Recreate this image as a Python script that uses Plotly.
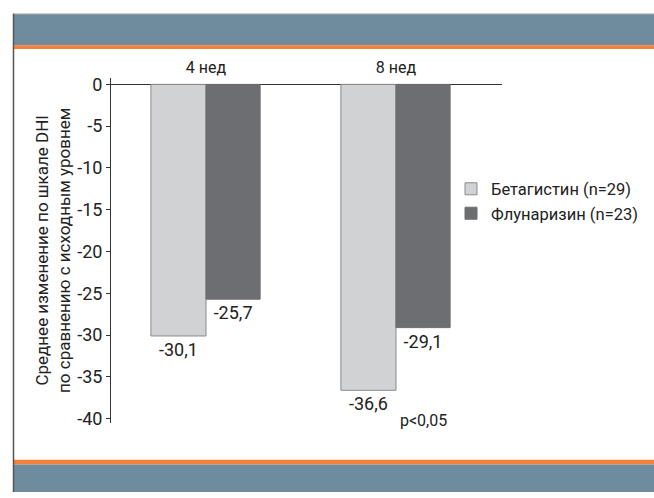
import plotly.graph_objects as go

categories = ["4 нед", "8 нед"]
series_names = ["Бетагистин (n=29)", "Флунаризин (n=23)"]
betahistine = [-30.1, -36.6]
flunarizine = [-25.7, -29.1]
y_ticks = [0, -5, -10, -15, -20, -25, -30, -35, -40]
p_label = "p<0,05"

FONT = "Roboto, sans-serif"
W, H = 654, 498
SLATE = "#6F8C9F"
ORANGE = "#F5803A"

def fmt(v):
    return f"{v:.1f}".replace(".", ",")

fig = go.Figure()
fig.add_trace(go.Bar(
    x=categories, y=betahistine, name=series_names[0],
    width=0.29, offset=-0.29,
    marker=dict(color="#D1D2D4", line=dict(color="#8A8B8D", width=1)),
    text=[fmt(v) for v in betahistine], textposition="outside",
    textfont=dict(family=FONT, size=18, color="#222"),
    cliponaxis=False,
))
fig.add_trace(go.Bar(
    x=categories, y=flunarizine, name=series_names[1],
    width=0.285, offset=0.0,
    marker=dict(color="#6D6E71", line=dict(color="#6D6E71", width=1)),
    text=[fmt(v) for v in flunarizine], textposition="outside",
    textfont=dict(family=FONT, size=18, color="#222"),
    cliponaxis=False,
))

shapes = [
    dict(type="rect", xref="paper", yref="paper", x0=13/W, x1=1, y0=1-42/H, y1=1-10/H,
         fillcolor=SLATE, line=dict(width=0), layer="below"),
    dict(type="line", xref="paper", yref="paper", x0=13/W, x1=1, y0=1-10.5/H, y1=1-10.5/H,
         line=dict(color="#9A9A9A", width=1)),
    dict(type="rect", xref="paper", yref="paper", x0=13/W, x1=1, y0=1-46/H, y1=1-42/H,
         fillcolor=ORANGE, line=dict(width=0), layer="below"),
    dict(type="rect", xref="paper", yref="paper", x0=13/W, x1=1, y0=1-470/H, y1=1-465/H,
         fillcolor=ORANGE, line=dict(width=0), layer="below"),
    dict(type="rect", xref="paper", yref="paper", x0=13/W, x1=1, y0=0, y1=1-470/H,
         fillcolor=SLATE, line=dict(width=0), layer="below"),
    dict(type="line", xref="paper", yref="paper", x0=13.5/W, x1=13.5/W, y0=0, y1=1-10/H,
         line=dict(color="#555", width=1.5)),
]

fig.update_layout(
    width=W, height=H,
    margin=dict(l=0, r=0, t=0, b=0),
    paper_bgcolor="white", plot_bgcolor="white",
    barmode="group",
    showlegend=True,
    legend=dict(x=451/W, y=1-171/H, xanchor="left", yanchor="top",
                font=dict(family=FONT, size=16.5, color="#222"),
                bgcolor="rgba(0,0,0,0)", itemwidth=30, tracegroupgap=2),
    shapes=shapes,
    font=dict(family=FONT, color="#222"),
    xaxis=dict(domain=[111/W, 502/W], range=[-0.5, 1.558], type="category",
               side="top", showline=False, ticks="", showgrid=False,
               tickfont=dict(family=FONT, size=16, color="#222")),
    yaxis=dict(domain=[1-427.5/H, 1-75.2/H], range=[-40.5, 0.8],
               tickvals=y_ticks, ticktext=[str(v) for v in y_ticks],
               showline=True, linecolor="#333", linewidth=1,
               ticks="outside", ticklen=4, tickcolor="#333",
               showgrid=False, zeroline=True, zerolinecolor="#333", zerolinewidth=1,
               tickfont=dict(family=FONT, size=18, color="#222"),
               title=dict(text="Среднее изменение по шкале DHI<br>по сравнению с исходным уровнем",
                          font=dict(family=FONT, size=17, color="#222"), standoff=2)),
    annotations=[dict(x=423/W, y=1-437/H, xref="paper", yref="paper", text=p_label,
                      showarrow=False, font=dict(family=FONT, size=16, color="#222"))],
)

fig.write_html("out.html", config={"displayModeBar": False},
               post_script="document.body.style.margin='0';")
